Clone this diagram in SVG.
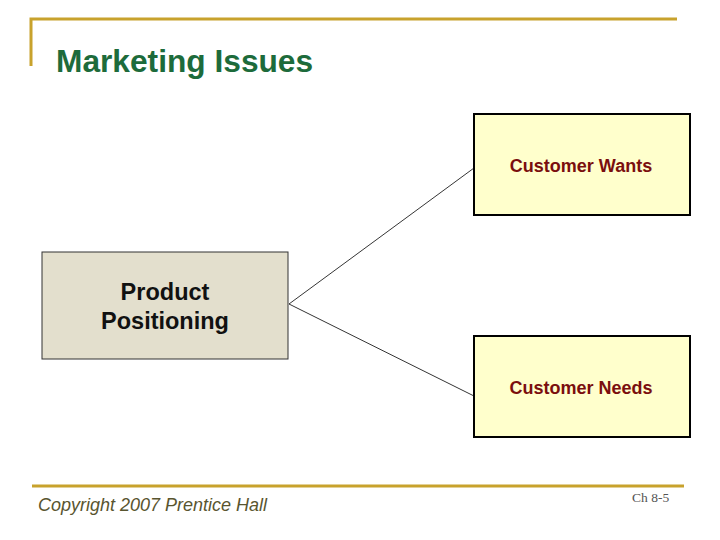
<svg xmlns="http://www.w3.org/2000/svg" width="720" height="540" viewBox="0 0 720 540">
<style>
.rule{stroke:#c8a22c;fill:none}
.box{stroke:#000;stroke-width:2}
.pos{fill:#e3dfcd;stroke:#333;stroke-width:1}
.cust{fill:#ffffcc}
.ct{font-family:"Liberation Sans",Arial,sans-serif;font-weight:bold;font-size:18px;fill:#7a0e0e;text-anchor:middle}
.pt{font-family:"Liberation Sans",Arial,sans-serif;font-weight:bold;font-size:23.5px;fill:#111;text-anchor:middle}
.conn{stroke:#000;stroke-width:0.8;fill:none}
</style>
<rect width="720" height="540" fill="#fff"/>
<path class="rule" d="M31 66V19H677" stroke-width="3"/>
<path class="rule" d="M32 486H684" stroke-width="3"/>
<text x="56" y="72" font-family="'Liberation Sans',Arial,sans-serif" font-weight="bold" font-size="31.7" fill="#1d6b3b">Marketing Issues</text>
<g id="connectors">
<path class="conn" d="M289 304L474 168"/>
<path class="conn" d="M289 304L474 396"/>
</g>
<g id="product-positioning">
<rect class="pos" x="42" y="252" width="246" height="107"/>
<text class="pt" x="165" y="300">Product</text>
<text class="pt" x="165" y="329">Positioning</text>
</g>
<g id="customer-wants">
<rect class="box cust" x="474" y="114" width="216" height="101"/>
<text class="ct" x="581" y="172">Customer Wants</text>
</g>
<g id="customer-needs">
<rect class="box cust" x="474" y="336" width="216" height="101"/>
<text class="ct" x="581" y="394">Customer Needs</text>
</g>
<text x="38" y="511" font-family="'Liberation Sans',Arial,sans-serif" font-style="italic" font-size="18" fill="#59552f">Copyright 2007 Prentice Hall</text>
<text x="632" y="502" font-family="'Liberation Serif','Times New Roman',serif" font-size="13.5" fill="#555">Ch 8-5</text>
</svg>
